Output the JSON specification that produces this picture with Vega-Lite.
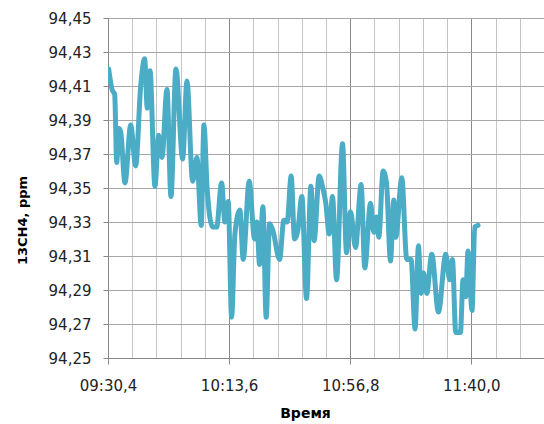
{
  "$schema": "https://vega.github.io/schema/vega-lite/v6.json",
  "width": 436,
  "height": 340,
  "autosize": {"type": "none"},
  "padding": {"left": 108, "top": 18, "right": 0, "bottom": 66},
  "background": "white",
  "config": {"view": {"stroke": null}},
  "data": {"values": [
    {"t": 570.65, "v": 94.420}, {"t": 571.83, "v": 94.408}, {"t": 572.79, "v": 94.405}, {"t": 573.5, "v": 94.365},
    {"t": 574.32, "v": 94.385}, {"t": 574.93, "v": 94.383}, {"t": 576.46, "v": 94.353}, {"t": 578.49, "v": 94.387},
    {"t": 580.27, "v": 94.363}, {"t": 582.06, "v": 94.410}, {"t": 583.48, "v": 94.426}, {"t": 584.41, "v": 94.397},
    {"t": 585.37, "v": 94.419}, {"t": 587.15, "v": 94.351}, {"t": 588.47, "v": 94.381}, {"t": 589.65, "v": 94.368},
    {"t": 591.43, "v": 94.408}, {"t": 592.86, "v": 94.345}, {"t": 594.64, "v": 94.420}, {"t": 597.03, "v": 94.367},
    {"t": 598.56, "v": 94.413}, {"t": 600.59, "v": 94.354}, {"t": 602.12, "v": 94.368}, {"t": 603.65, "v": 94.328},
    {"t": 604.62, "v": 94.387}, {"t": 605.79, "v": 94.349}, {"t": 607.72, "v": 94.327}, {"t": 609.14, "v": 94.327},
    {"t": 610.93, "v": 94.353}, {"t": 612.1, "v": 94.330}, {"t": 613.28, "v": 94.342}, {"t": 614.49, "v": 94.274},
    {"t": 615.67, "v": 94.323}, {"t": 617.45, "v": 94.337}, {"t": 618.63, "v": 94.308}, {"t": 620.76, "v": 94.354},
    {"t": 622.69, "v": 94.320}, {"t": 623.51, "v": 94.330}, {"t": 624.47, "v": 94.305}, {"t": 625.65, "v": 94.339},
    {"t": 626.82, "v": 94.274}, {"t": 628.03, "v": 94.329}, {"t": 629.21, "v": 94.325}, {"t": 631.6, "v": 94.308},
    {"t": 633.13, "v": 94.331}, {"t": 634.31, "v": 94.330}, {"t": 635.73, "v": 94.357}, {"t": 636.95, "v": 94.320},
    {"t": 638.12, "v": 94.325}, {"t": 639.55, "v": 94.345}, {"t": 641.22, "v": 94.285}, {"t": 642.76, "v": 94.351},
    {"t": 643.93, "v": 94.319}, {"t": 645.71, "v": 94.357}, {"t": 647.03, "v": 94.350}, {"t": 648.1, "v": 94.341},
    {"t": 649.28, "v": 94.323}, {"t": 650.49, "v": 94.345}, {"t": 651.92, "v": 94.296}, {"t": 654.05, "v": 94.376},
    {"t": 655.48, "v": 94.312}, {"t": 656.91, "v": 94.336}, {"t": 658.69, "v": 94.315}, {"t": 660.68, "v": 94.352},
    {"t": 662.0, "v": 94.303}, {"t": 664.04, "v": 94.341}, {"t": 665.21, "v": 94.324}, {"t": 666.17, "v": 94.333},
    {"t": 666.99, "v": 94.321}, {"t": 668.53, "v": 94.360}, {"t": 669.74, "v": 94.353}, {"t": 671.16, "v": 94.307},
    {"t": 672.34, "v": 94.343}, {"t": 673.05, "v": 94.321}, {"t": 675.19, "v": 94.356}, {"t": 676.97, "v": 94.308},
    {"t": 678.5, "v": 94.308}, {"t": 679.93, "v": 94.267}, {"t": 681.14, "v": 94.316}, {"t": 682.07, "v": 94.288},
    {"t": 682.92, "v": 94.300}, {"t": 684.1, "v": 94.288}, {"t": 685.88, "v": 94.311}, {"t": 688.27, "v": 94.277},
    {"t": 690.87, "v": 94.311}, {"t": 692.3, "v": 94.296}, {"t": 693.26, "v": 94.308}, {"t": 694.44, "v": 94.265},
    {"t": 696.11, "v": 94.265}, {"t": 697.04, "v": 94.296}, {"t": 698.01, "v": 94.286}, {"t": 698.82, "v": 94.313},
    {"t": 700.25, "v": 94.278}, {"t": 701.21, "v": 94.327}, {"t": 702.39, "v": 94.328}
  ]},
  "mark": {"type": "line", "color": "#4BACC6", "strokeWidth": 5, "strokeCap": "round", "strokeJoin": "round", "interpolate": "monotone", "clip": true},
  "encoding": {
    "x": {
      "field": "t", "type": "quantitative",
      "scale": {"domain": [570.4, 725.92], "nice": false, "zero": false},
      "axis": {
        "title": "Время",
        "titleFont": "DejaVu Sans", "titleFontSize": 14, "titleFontWeight": "bold", "titleColor": "#000000",
        "titleX": 197, "titleY": 55, "titleBaseline": "middle",
        "values": [570.4, 579.04, 587.68, 596.32, 604.96, 613.6, 622.24, 630.88, 639.52, 648.16, 656.8, 665.44, 674.08, 682.72, 691.36, 700.0, 708.64, 717.28],
        "labelExpr": "abs((datum.value-570.4)/43.2 - round((datum.value-570.4)/43.2)) < 0.01 ? (format(floor(datum.value/60 + 0.00001),'02d') + ':' + replace(format(datum.value - 60*floor(datum.value/60 + 0.00001), '04.1f'), '.', ',')) : ''",
        "labelFont": "DejaVu Sans", "labelFontSize": 15, "labelColor": "#222222", "labelPadding": 14,
        "labelFlush": false, "labelOverlap": false,
        "grid": true, "gridWidth": 1,
        "gridColor": {"condition": {"test": "abs((datum.value-570.4)/43.2 - round((datum.value-570.4)/43.2)) < 0.01", "value": "#888888"}, "value": "#c6c6c6"},
        "tickColor": {"condition": {"test": "abs((datum.value-570.4)/43.2 - round((datum.value-570.4)/43.2)) < 0.01", "value": "#888888"}, "value": "transparent"},
        "tickSize": 6,
        "domainColor": "#888888", "domainWidth": 1
      }
    },
    "y": {
      "field": "v", "type": "quantitative",
      "scale": {"domain": [94.25, 94.45], "nice": false, "zero": false},
      "axis": {
        "title": "13CH4, ppm",
        "titleFont": "DejaVu Sans", "titleFontSize": 13, "titleFontWeight": "bold", "titleColor": "#000000",
        "titleX": -86, "titleY": 202, "titleAngle": -90, "titleAlign": "center", "titleBaseline": "middle",
        "values": [94.25, 94.27, 94.29, 94.31, 94.33, 94.35, 94.37, 94.39, 94.41, 94.43, 94.45],
        "labelExpr": "replace(format(datum.value, '.2f'), '.', ',')",
        "labelFont": "DejaVu Sans", "labelFontSize": 15, "labelColor": "#222222", "labelPadding": 12,
        "labelFlush": false, "labelOverlap": false,
        "grid": true, "gridColor": "#a6a6a6", "gridWidth": 1,
        "tickColor": "#888888", "tickSize": 5,
        "domainColor": "#888888", "domainWidth": 1
      }
    }
  }
}
